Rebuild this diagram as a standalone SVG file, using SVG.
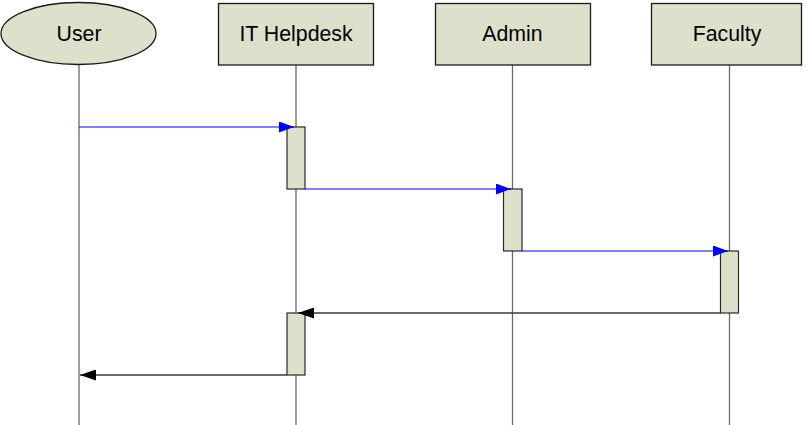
<svg xmlns="http://www.w3.org/2000/svg" width="807" height="425" viewBox="0 0 807 425">
  <defs>
    <style>
      .head { fill: #dde0cb; stroke: #1a1a1a; stroke-width: 1.3; }
      .label { font-family: "Liberation Sans", Arial, sans-serif; font-size: 21.3px; fill: #000; text-anchor: middle; }
      .life { stroke: #6b6b6b; stroke-width: 1.3; fill: none; }
      .act { fill: #dde0cb; stroke: #2a2a2a; stroke-width: 1.2; }
      .call { stroke: #0000ff; stroke-width: 1.2; fill: none; }
      .reply { stroke: #3a3a3a; stroke-width: 1.3; fill: none; }
    </style>
    <marker id="arrowBlue" markerWidth="15" markerHeight="11" refX="15" refY="5.5" orient="auto" markerUnits="userSpaceOnUse">
      <path d="M0,0 L15,5.5 L0,11 Z" fill="#0000ff"/>
    </marker>
    <marker id="arrowBlack" markerWidth="16" markerHeight="11" refX="16" refY="5.5" orient="auto" markerUnits="userSpaceOnUse">
      <path d="M0,0 L16,5.5 L0,11 Z" fill="#000"/>
    </marker>
  </defs>

  <rect width="807" height="425" fill="#fff"/>

  <!-- lifelines -->
  <g id="lifelines">
    <line class="life" x1="79" y1="65" x2="79" y2="425"/>
    <line class="life" x1="296" y1="65" x2="296" y2="425"/>
    <line class="life" x1="512.5" y1="65" x2="512.5" y2="425"/>
    <line class="life" x1="729.5" y1="65" x2="729.5" y2="425"/>
  </g>

  <!-- participants -->
  <g id="user">
    <ellipse class="head" cx="78.5" cy="33.5" rx="77.5" ry="31"/>
    <text class="label" x="79" y="41">User</text>
  </g>
  <g id="it-helpdesk">
    <rect class="head" x="218.5" y="3.5" width="155" height="61.5"/>
    <text class="label" x="296" y="41">IT Helpdesk</text>
  </g>
  <g id="admin">
    <rect class="head" x="435.5" y="3.5" width="155" height="61.5"/>
    <text class="label" x="512.5" y="41">Admin</text>
  </g>
  <g id="faculty">
    <rect class="head" x="651.5" y="3.5" width="150" height="61.5"/>
    <text class="label" x="727" y="41">Faculty</text>
  </g>

  <!-- activation bars -->
  <g id="activations">
    <rect class="act" x="287" y="127" width="18" height="62"/>
    <rect class="act" x="503.5" y="189" width="18.5" height="62"/>
    <rect class="act" x="720.5" y="251" width="18" height="62"/>
    <rect class="act" x="287" y="313" width="18" height="62"/>
  </g>

  <!-- messages -->
  <g id="connectors">
    <line class="call" x1="79" y1="127" x2="294" y2="127" marker-end="url(#arrowBlue)"/>
    <line class="call" x1="305" y1="189" x2="511" y2="189" marker-end="url(#arrowBlue)"/>
    <line class="call" x1="522" y1="251" x2="728" y2="251" marker-end="url(#arrowBlue)"/>
    <line class="reply" x1="720.5" y1="313" x2="298" y2="313" marker-end="url(#arrowBlack)"/>
    <line class="reply" x1="287" y1="375" x2="80" y2="375" marker-end="url(#arrowBlack)"/>
  </g>
</svg>
